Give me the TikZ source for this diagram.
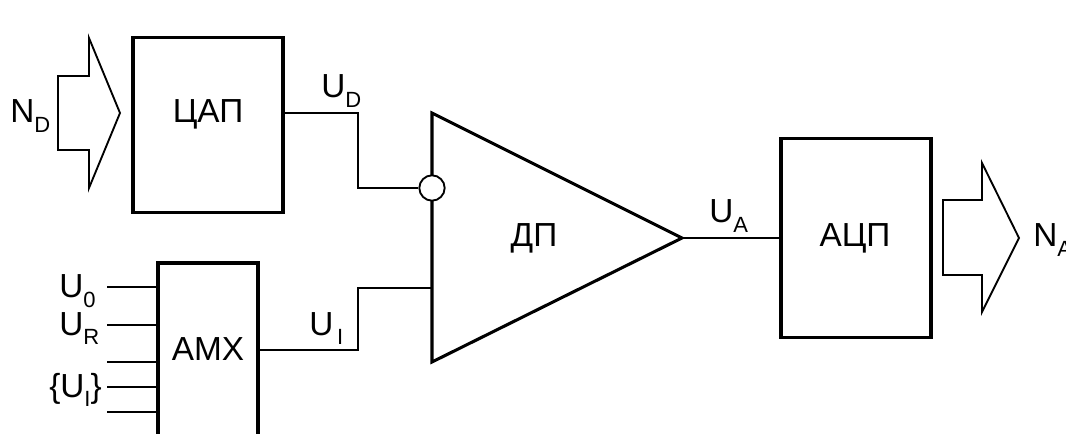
\documentclass[tikz,border=0pt]{standalone}
\usepackage{fontspec}
\setmainfont{Liberation Sans}
\newcommand{\sigl}[2]{#1\raisebox{-7pt}{\fontsize{16.5}{18}\selectfont #2}}
\tikzset{
  block/.style={draw, line width=2.3pt, inner sep=0pt, outer sep=0pt},
  wire/.style={line width=1.4pt},
  txt/.style={anchor=base, inner sep=0pt, font=\fontsize{25}{28}\selectfont},
  txtl/.style={txt, anchor=base west},
}
\begin{document}
\begin{tikzpicture}[x=0.75pt, y=-0.75pt]
            \clip (0,0) rectangle (1066,434);

            % Bloques
            \node[block, minimum width=112.5pt, minimum height=131pt] (cap) at (208,125) {};
            \node[block, minimum width=75pt, minimum height=130.5pt] (amx) at (208,350) {};
            \node[block, minimum width=112.5pt, minimum height=149.25pt] (acp) at (856,238) {};

            % Amplificador
            \coordinate (dpTop) at (432,113);
            \coordinate (dpBot) at (432,362);
            \coordinate (dpOut) at (682,238);
            \coordinate (dpIn) at (432,288);
            \draw[block, line join=miter] (dpTop) -- (dpOut) -- (dpBot) -- cycle;
            \node[draw, fill=white, circle, wire, inner sep=0pt, minimum size=19pt] (inv) at (432,188) {};

            % Textos de los bloques
            \node[txt] (capText) at (208,123) {ЦАП};
            \node[txt] (amxText) at (208,360) {AMX};
            \node[txt] (acpText) at (855,247) {АЦП};
            \node[txt] (dpText) at (534,247) {ДП};

            % Flechas de datos
            \draw[wire] (58,76) -- (89,76) -- (89,38) -- (120,113) -- (89,188) -- (89,150) -- (58,150) -- cycle;
            \draw[wire] (943,200) -- (982,200) -- (982,163) -- (1019,238) -- (982,312) -- (982,275) -- (943,275) -- cycle;

            % Conexiones
            \coordinate (ud) at (358,113);
            \coordinate (ui) at (358,350);
            \draw[wire] (cap.east |- ud) -- (ud) |- (inv.west);
            \draw[wire] (amx.east) -- (ui) |- (dpIn);
            \draw[wire] (dpOut) -- (acp.west);

            % Entradas del multiplexor
            \foreach \y/\name in {287/inA, 325/inB, 362/inC, 387/inD, 412/inE} {
                \coordinate (\name) at (107,\y);
                \draw[wire] (\name) -- (\name -| amx.west);
            }

            % Etiquetas
            \node[txtl] (nd) at (10,123) {\sigl{N}{D}};
            \node[txtl] (na) at (1033,247) {\sigl{N}{A}};
            \node[txtl] (udText) at (321,98) {\sigl{U}{D}};
            \node[txtl] (uiText) at (309,335) {\sigl{U}{\,I}};
            \node[txtl] (uaText) at (709,223) {\sigl{U}{A}};
            \node[txtl] (u0Text) at (59,298) {\sigl{U}{0}};
            \node[txtl] (urText) at (59,335) {\sigl{U}{R}};
            \node[txtl] (uiSet) at (49,397) {\{\sigl{U}{I}\}};
        \end{tikzpicture}
\end{document}
